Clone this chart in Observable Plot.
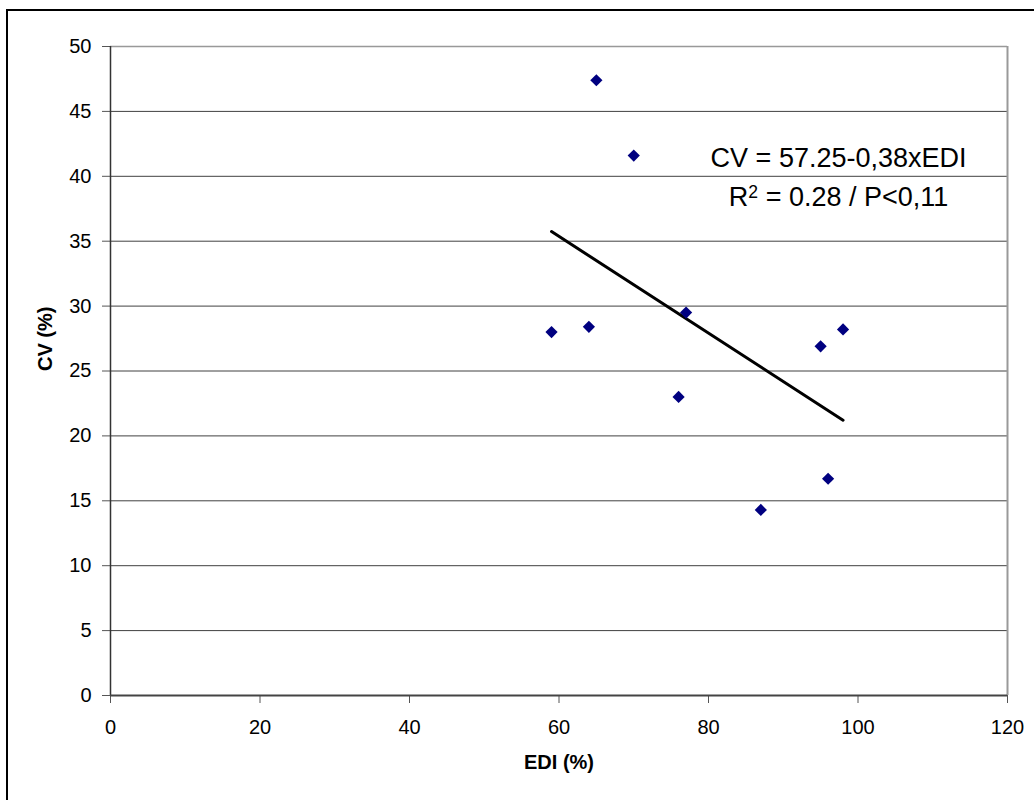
<!DOCTYPE html>
<html>
<head>
<meta charset="utf-8">
<script src="https://cdn.jsdelivr.net/npm/d3@7"></script>
<script src="https://cdn.jsdelivr.net/npm/@observablehq/plot@0.6"></script>
<style>
  html, body { margin: 0; padding: 0; background: #fff; overflow: hidden; }
  #frame { position: absolute; left: 6px; top: 9px; width: 1200px; height: 1000px;
           border-left: 2px solid #000; border-top: 2px solid #000; }
  #chart { position: absolute; left: 0; top: 0; }
</style>
</head>
<body>
<div id="frame"></div>
<div id="chart"></div>
<script>
// Data
const edi = [59, 64, 65, 70, 77, 76, 87, 95, 96, 98];
const cv  = [28.0, 28.4, 47.4, 41.6, 29.5, 23.0, 14.3, 26.9, 16.7, 28.2];
const xTicks = [0, 20, 40, 60, 80, 100, 120];
const yTicks = [0, 5, 10, 15, 20, 25, 30, 35, 40, 45, 50];
const annotText = ["CV = 57.25-0,38xEDI", "R2 = 0.28 / P<0,11"];
const annotX = [97.4, 97.4];
const annotY = [41.4, 38.4];
const xLabel = "EDI (%)";
const yLabel = "CV (%)";

const points = edi.map((x, i) => ({x, y: cv[i]}));
const annots = annotText.map((t, i) => ({t, x: annotX[i], y: annotY[i]}));

const chart = Plot.plot({
  width: 1034,
  height: 800,
  marginLeft: 110,
  marginRight: 27,
  marginTop: 46,
  marginBottom: 105,
  x: {domain: [0, 120]},
  y: {domain: [0, 50]},
  style: {fontFamily: "'Liberation Sans', Arial, sans-serif", fontSize: "20px", color: "#000", background: "transparent", overflow: "visible"},
  marks: [
    Plot.ruleY(yTicks.filter(d => d > 0 && d < 50), {stroke: "#404040", strokeWidth: 1}),
    Plot.ruleY([50], {stroke: "#999", strokeWidth: 1.5}),
    Plot.ruleX([120], {stroke: "#999", strokeWidth: 2}),
    Plot.axisX({ticks: xTicks, tickSize: 8, tickPadding: 16, label: null, stroke: "#555"}),
    Plot.axisY({ticks: yTicks, tickSize: 8, tickPadding: 11, label: null, stroke: "#555"}),
    Plot.ruleX([0], {stroke: "#333", strokeWidth: 1.5}),
    Plot.ruleY([0], {stroke: "#444", strokeWidth: 2}),
    Plot.linearRegressionY(points, {x: "x", y: "y", ci: 0, stroke: "#000", strokeWidth: 3}),
    Plot.dot(points, {x: "x", y: "y", symbol: "diamond2", r: 5.5, fill: "#000080", stroke: "none"}),
    Plot.text(annots, {x: "x", y: "y", text: "t", fontSize: 27, fill: "#000"}),
    Plot.text([xLabel], {text: d => d, frameAnchor: "bottom", dy: 73, fontWeight: "bold", fontSize: 20}),
    Plot.text([yLabel], {text: d => d, frameAnchor: "left", dx: -65, rotate: -90, fontWeight: "bold", fontSize: 20})
  ]
});
document.getElementById("chart").appendChild(chart);

// Render the "2" of R2 as a superscript
d3.select(chart).selectAll("text").each(function() {
  const el = d3.select(this);
  const t = el.text();
  if (t === annotText[1]) {
    el.text(null);
    el.append("tspan").text(t.slice(0, 1));
    el.append("tspan").attr("dy", "-0.45em").attr("font-size", "0.65em").text(t.slice(1, 2));
    el.append("tspan").attr("dy", "0.29em").text(t.slice(2));
  }
});
</script>
</body>
</html>
